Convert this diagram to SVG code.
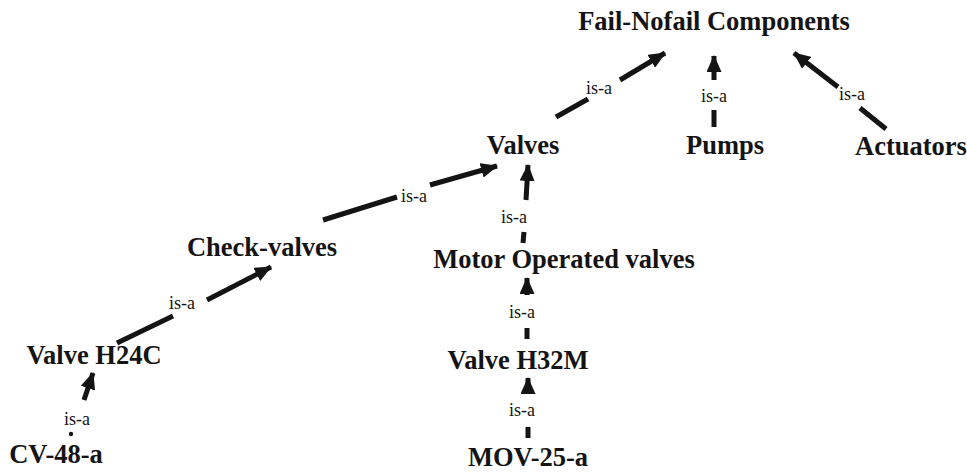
<svg xmlns="http://www.w3.org/2000/svg" width="967" height="472" viewBox="0 0 967 472">
<style>
.node{font-family:"Liberation Serif","Times New Roman",serif;font-weight:bold;font-size:26.5px;fill:#141414;text-anchor:middle}
.lbl{font-family:"Liberation Serif","Times New Roman",serif;font-size:18px;fill:#141414;text-anchor:middle}
.e{stroke:#141414;stroke-width:5;fill:none;stroke-linecap:butt}
</style>
<defs>
<marker id="ah" markerUnits="userSpaceOnUse" markerWidth="18" markerHeight="15" refX="16" refY="7.5" orient="auto">
<path d="M0,0 L17,7.5 L0,15 z" fill="#141414"/>
</marker>
</defs>
<rect width="967" height="472" fill="#ffffff"/>
<g id="n-fail"><text class="node" x="714" y="30">Fail-Nofail Components</text></g>
<g id="n-valves"><text class="node" x="523" y="154">Valves</text></g>
<g id="n-pumps"><text class="node" x="725" y="154">Pumps</text></g>
<g id="n-actuators"><text class="node" x="911" y="155">Actuators</text></g>
<g id="n-check"><text class="node" x="262" y="256">Check-valves</text></g>
<g id="n-motor"><text class="node" x="564" y="268">Motor Operated valves</text></g>
<g id="n-h24c"><text class="node" x="94" y="364">Valve H24C</text></g>
<g id="n-h32m"><text class="node" x="518" y="369">Valve H32M</text></g>
<g id="n-cv"><text class="node" x="56" y="463">CV-48-a</text></g>
<g id="n-mov"><text class="node" x="528" y="466">MOV-25-a</text></g>
<g id="edges">
<g id="e1"><line class="e" x1="556" y1="117" x2="588" y2="99"/><text class="lbl" x="599" y="94">is-a</text><line class="e" x1="620" y1="80" x2="665" y2="53" marker-end="url(#ah)"/></g>
<g id="e2"><line class="e" x1="714" y1="127" x2="714" y2="110"/><text class="lbl" x="714" y="102">is-a</text><line class="e" x1="714" y1="80" x2="714" y2="56" marker-end="url(#ah)"/></g>
<g id="e3"><line class="e" x1="886" y1="129" x2="860" y2="108"/><text class="lbl" x="852" y="100">is-a</text><line class="e" x1="838" y1="87" x2="794" y2="53" marker-end="url(#ah)"/></g>
<g id="e4"><line class="e" x1="323" y1="220" x2="397" y2="197"/><text class="lbl" x="414" y="202">is-a</text><line class="e" x1="430" y1="185" x2="497" y2="166" marker-end="url(#ah)"/></g>
<g id="e5"><line class="e" x1="523" y1="243" x2="524" y2="232"/><text class="lbl" x="514" y="223">is-a</text><line class="e" x1="526" y1="200" x2="528" y2="165" marker-end="url(#ah)"/></g>
<g id="e6"><line class="e" x1="117" y1="343" x2="173" y2="316"/><text class="lbl" x="182" y="309">is-a</text><line class="e" x1="207" y1="300" x2="271" y2="267" marker-end="url(#ah)"/></g>
<g id="e7"><circle cx="71" cy="434" r="2.2" fill="#141414"/><text class="lbl" x="77" y="425">is-a</text><line class="e" x1="84" y1="400" x2="93" y2="373" marker-end="url(#ah)"/></g>
<g id="e8"><line class="e" x1="527" y1="339" x2="527" y2="328"/><text class="lbl" x="522" y="318">is-a</text><line class="e" x1="527" y1="295" x2="527" y2="278" marker-end="url(#ah)"/></g>
<g id="e9"><line class="e" x1="528" y1="438" x2="528" y2="427"/><text class="lbl" x="522" y="416">is-a</text><line class="e" x1="528" y1="394" x2="528" y2="378" marker-end="url(#ah)"/></g>
</g>
</svg>
